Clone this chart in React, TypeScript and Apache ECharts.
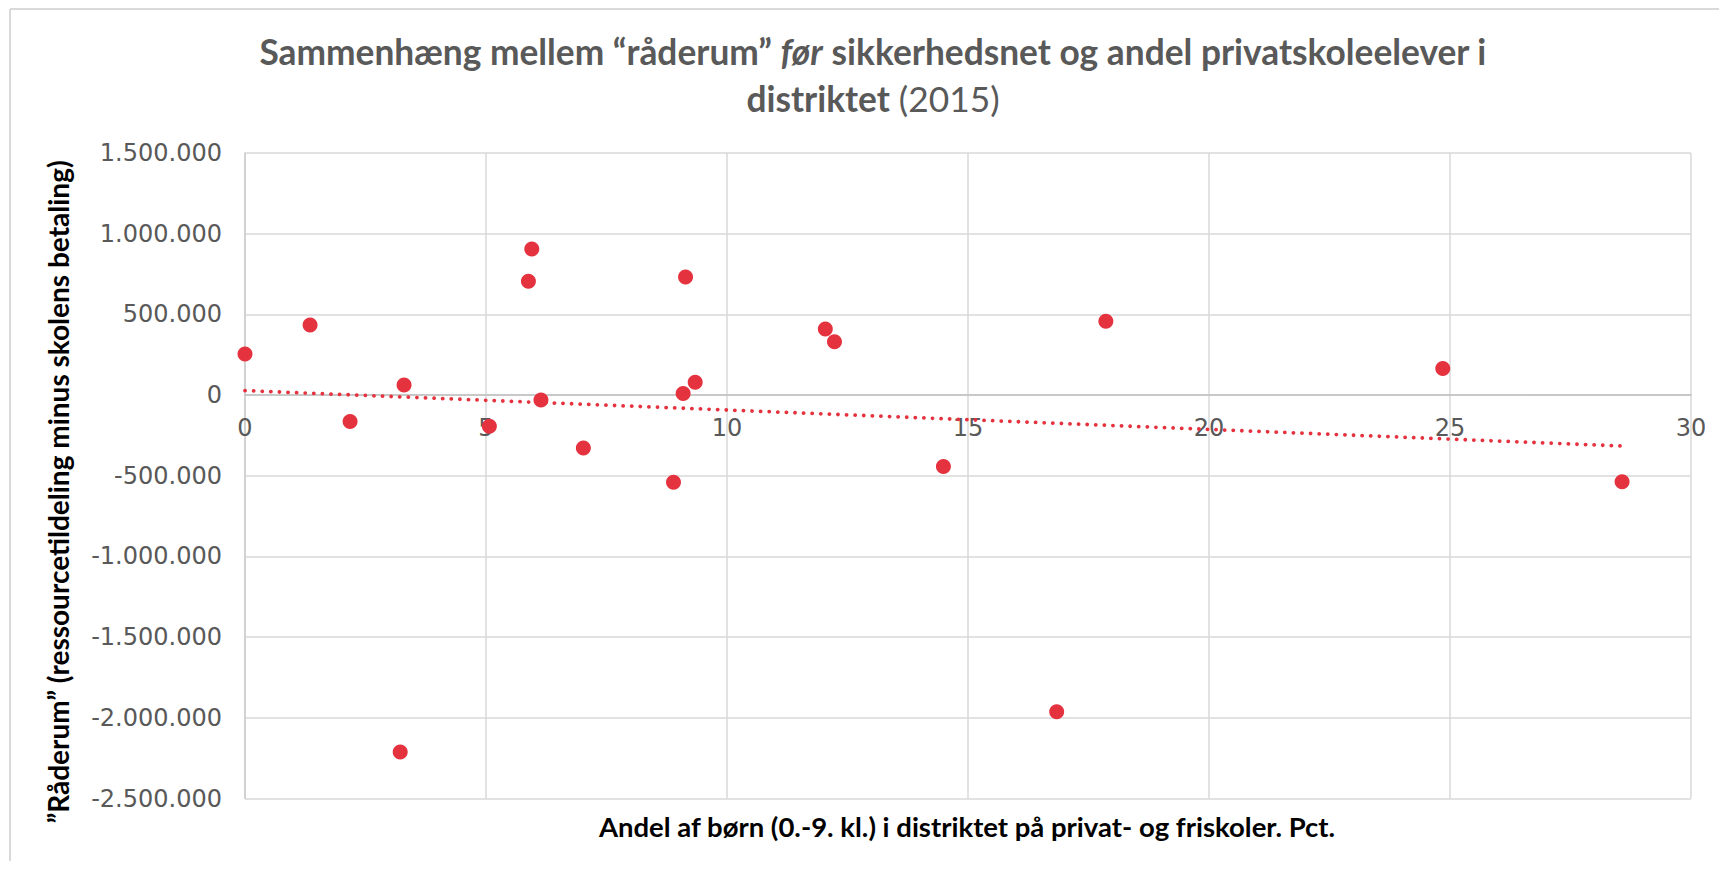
import React, { useEffect, useRef } from "react";
import * as echarts from "echarts";

// Andel af børn i distriktet på privat- og friskoler (pct.)
const xValues = [0, 1.35, 2.18, 3.3, 5.07, 5.95, 5.88, 6.14, 7.02, 8.89, 9.09, 9.14, 9.34, 12.04, 12.23, 14.49, 17.86, 24.85, 28.57, 3.22, 16.84];
// "Råderum" (kr.)
const yValues = [254000, 434000, -164000, 62000, -194000, 905000, 706000, -31000, -328000, -541000, 10000, 731000, 80000, 409000, 330000, -442000, 458000, 165000, -537000, -2212000, -1962000];

const xMin = 0;
const xMax = 30;
const xStep = 5;
const yMin = -2500000;
const yMax = 1500000;
const yStep = 500000;

const titleLine1a = "Sammenhæng mellem “råderum” ";
const titleLine1b = "før";
const titleLine1c = " sikkerhedsnet og andel privatskoleelever i";
const titleLine2a = "distriktet";
const titleLine2b = " (2015)";
const yTitle = "”Råderum” (ressourcetildeling minus skolens betaling)";
const xTitle = "Andel af børn (0.-9. kl.) i distriktet på privat- og friskoler. Pct.";

function fmt(v: number): string {
  const s = String(Math.abs(Math.round(v))).replace(/\B(?=(\d{3})+(?!\d))/g, ".");
  return (v < 0 ? "-" : "") + s;
}

function regression(xs: number[], ys: number[]) {
  const n = xs.length;
  const mx = xs.reduce((a, b) => a + b, 0) / n;
  const my = ys.reduce((a, b) => a + b, 0) / n;
  let sxy = 0;
  let sxx = 0;
  for (let i = 0; i < n; i++) {
    sxy += (xs[i] - mx) * (ys[i] - my);
    sxx += (xs[i] - mx) * (xs[i] - mx);
  }
  const b = sxy / sxx;
  const a = my - b * mx;
  return { a, b };
}

const W = 1711;
const H = 861;
const GRID = { left: 237, right: 28, top: 145, bottom: 70.5 };

export default function App() {
  const ref = useRef<HTMLDivElement>(null);
  useEffect(() => {
    if (!ref.current) return;
    const chart = echarts.init(ref.current, null, { renderer: "svg" });
    const pts = xValues.map((x, i) => [x, yValues[i]]);
    const { a, b } = regression(xValues, yValues);
    const x0 = Math.min(...xValues);
    const x1 = Math.max(...xValues);
    const trend = [
      [x0, a + b * x0],
      [x1, a + b * x1],
    ];
    const plotH = H - GRID.top - GRID.bottom;
    const zeroOffset = -plotH * (0 - yMin) / (yMax - yMin);
    const red = "#E5323F";
    const titleFont = "Lato, 'Open Sans', sans-serif";
    const tickFont = "'DejaVu Sans', Verdana, sans-serif";
    chart.setOption({
      animation: false,
      backgroundColor: "#ffffff",
      title: {
        text:
          "{b|" + titleLine1a + "}{bi|" + titleLine1b + "}{b|" + titleLine1c + "}\n{b|" + titleLine2a + "}{n|" + titleLine2b + "}",
        left: 860,
        top: 15,
        textAlign: "center",
        textStyle: {
          rich: {
            b: { fontFamily: titleFont, fontWeight: "bold", fontSize: 35.3, color: "#595959", lineHeight: 47 },
            bi: { fontFamily: titleFont, fontWeight: "bold", fontStyle: "italic", fontSize: 35.3, color: "#595959", lineHeight: 47 },
            n: { fontFamily: titleFont, fontWeight: "normal", fontSize: 35.3, color: "#595959", lineHeight: 47 },
          },
        },
      },
      graphic: [
        {
          type: "line",
          shape: { x1: 2, y1: 1, x2: 4000, y2: 1 },
          style: { stroke: "#d9d9d9", lineWidth: 2 },
          silent: true,
        },
        {
          type: "line",
          shape: { x1: 2, y1: 1, x2: 2, y2: 4000 },
          style: { stroke: "#d9d9d9", lineWidth: 2 },
          silent: true,
        },
        {
          type: "text",
          x: 50,
          y: 484,
          rotation: Math.PI / 2,
          style: {
            text: yTitle,
            fontFamily: titleFont,
            fontWeight: "bold",
            fontSize: 28,
            fill: "#000000",
            align: "center",
            verticalAlign: "middle",
          },
        },
        {
          type: "text",
          x: 959,
          y: 818,
          style: {
            text: xTitle,
            fontFamily: titleFont,
            fontWeight: "bold",
            fontSize: 27.5,
            fill: "#000000",
            align: "center",
            verticalAlign: "middle",
          },
        },
      ],
      grid: {
        left: GRID.left,
        right: GRID.right,
        top: GRID.top,
        bottom: GRID.bottom,
        containLabel: false,
        outerBoundsMode: "none",
      },
      xAxis: {
        type: "value",
        min: xMin,
        max: xMax,
        interval: xStep,
        position: "bottom",
        offset: zeroOffset,
        axisLine: { show: true, onZero: false, lineStyle: { color: "#bfbfbf", width: 1.5 } },
        axisTick: { show: false },
        axisLabel: { fontFamily: tickFont, fontSize: 24, color: "#595959", margin: 21 },
        splitLine: { show: true, lineStyle: { color: "#d9d9d9", width: 1.5 } },
      },
      yAxis: {
        type: "value",
        min: yMin,
        max: yMax,
        interval: yStep,
        axisLine: { show: true, onZero: false, lineStyle: { color: "#cccccc", width: 1.5 } },
        axisTick: { show: false },
        axisLabel: {
          fontFamily: tickFont,
          fontSize: 24,
          color: "#595959",
          margin: 23,
          formatter: (v: number) => fmt(v),
        },
        splitLine: { show: true, lineStyle: { color: "#d9d9d9", width: 1.5 } },
      },
      series: [
        {
          type: "line",
          data: trend,
          showSymbol: false,
          symbol: "none",
          lineStyle: { color: red, width: 3.8, type: [0.1, 8.5], cap: "round" },
          silent: true,
          z: 2,
        },
        {
          type: "scatter",
          data: pts,
          symbol: "circle",
          symbolSize: 15,
          itemStyle: { color: red, opacity: 1 },
          z: 3,
        },
      ],
    });
    return () => chart.dispose();
  }, []);
  return <div ref={ref} style={{ width: W + "px", height: H + "px", marginBottom: "-8px" }} />;
}
